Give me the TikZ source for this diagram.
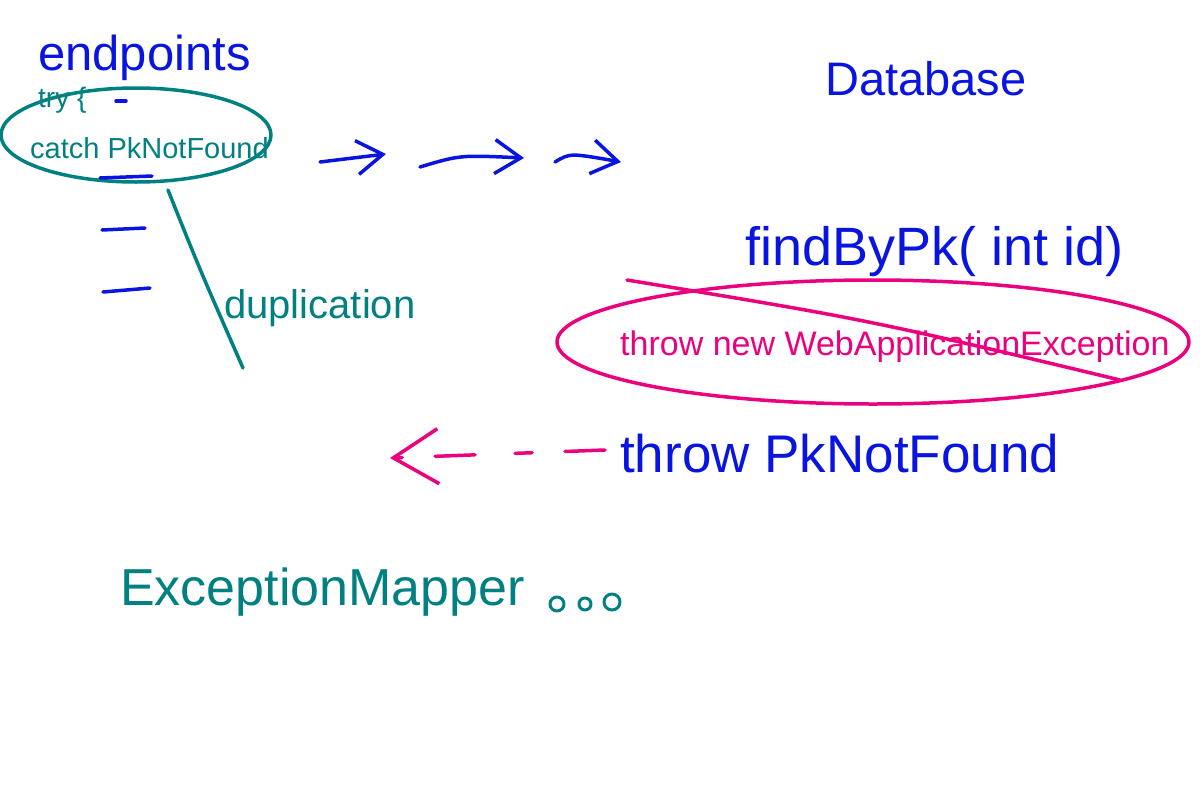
\documentclass[tikz,border=0pt]{standalone}
\usepackage{fontspec}
\setmainfont{Liberation Sans}
\usetikzlibrary{arrows.meta}
\definecolor{penblue}{RGB}{10,20,225}
\definecolor{penteal}{RGB}{0,128,128}
\definecolor{penpink}{RGB}{235,0,125}
\newcommand{\hand}[1]{\fontsize{#1}{#1}\selectfont}

\begin{document}
\begin{tikzpicture}[x=1pt, y=-1pt,
    ink/.style={line width=3.5pt, line cap=round, line join=round},
    word/.style={anchor=base west, inner sep=0pt},
    barb/.style={-{Straight Barb[length=26pt, width=34pt, line width=3.5pt]}}]
    \useasboundingbox (0,0) rectangle (1200,790);

    % Endpoints side
    \node[word, text=penblue, font=\hand{49}] (endpoints) at (38,70) {endpoints};
    \draw[ink, penteal] (136,135) ellipse [x radius=135, y radius=47];
    \node[word, text=penteal, font=\hand{28}] (try) at (38,107) {try \{};
    \node[word, text=penteal, font=\hand{29}] (catch) at (30,158) {catch PkNotFound};
    \draw[ink, penblue] (116,101) -- (126,101);
    \draw[ink, penblue] (100,178) -- (152,176);

    % Duplication
    \coordinate (dupA) at (168,190);
    \coordinate (dupB) at (243,368);
    \draw[ink, penteal] (dupA) .. controls (200,270) .. (dupB);
    \node[word, text=penteal, font=\hand{40}] (dup) at (224,318) {duplication};
    \draw[ink, penblue] (102,230) -- (145,228);
    \draw[ink, penblue] (103,292) -- (150,288);

    % Calls towards the database
    \coordinate (callA) at (320,162);
    \coordinate (callB) at (386,154);
    \coordinate (callC) at (420,167);
    \coordinate (callD) at (524,158);
    \coordinate (callE) at (555,162);
    \coordinate (callF) at (621,162);
    \draw[ink, penblue, barb] (callA) -- (callB);
    \draw[ink, penblue, barb] (callC) .. controls (460,155) .. (callD);
    \draw[ink, penblue, barb] (callE) .. controls (570,153) .. (callF);

    % Database side
    \node[word, text=penblue, font=\hand{47}] (db) at (825,95) {Database};
    \node[word, text=penblue, font=\hand{54}] (find) at (745,265) {findByPk( int id)};
    \draw[ink, penpink] (873,342) ellipse [x radius=316, y radius=62];
    \node[word, text=penpink, font=\hand{34}] (webex) at (620,355) {throw new WebApplicationException};
    \coordinate (strikeA) at (627,280);
    \coordinate (strikeB) at (1120,380);
    \draw[ink, penpink] (strikeA) .. controls (870,320) .. (strikeB);

    % Exception thrown back
    \node[word, text=penblue, font=\hand{53}] (pknf) at (620,472) {throw PkNotFound};
    \coordinate (back) at (390,458);
    \draw[ink, penpink, dash pattern=on 40pt off 33pt on 17pt off 40pt,
        -{Straight Barb[length=45pt, width=55pt, line width=3.5pt]}] (605,450) -- (back);

    % Mapper
    \node[word, text=penteal, font=\hand{52}] (mapper) at (120,605) {ExceptionMapper};
    \draw[ink, penteal, line width=3pt] (557,604) circle [radius=7];
    \draw[ink, penteal, line width=3pt] (585,604) circle [radius=6];
    \draw[ink, penteal, line width=3pt] (612,602) circle [radius=8];
\end{tikzpicture}
\end{document}
